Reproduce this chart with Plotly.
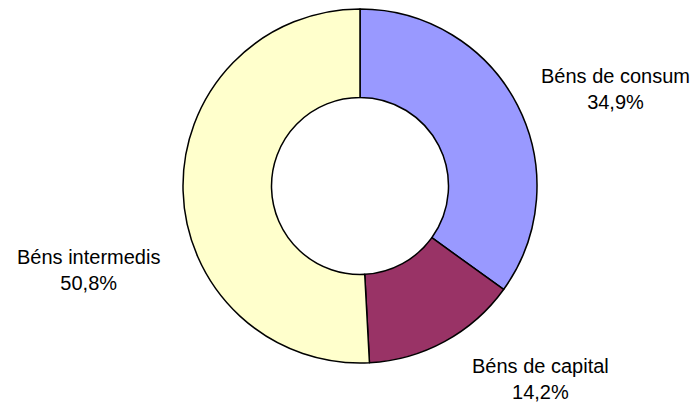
import plotly.graph_objects as go

labels = ["Béns de consum", "Béns de capital", "Béns intermedis"]
values = [34.9, 14.2, 50.8]
pct_text = ["34,9%", "14,2%", "50,8%"]
colors = ["#9999FF", "#993366", "#FFFFCC"]

W, H = 700, 408
cx, cy, r = 360, 186, 177

fig = go.Figure(go.Pie(
    labels=labels,
    values=values,
    hole=0.5,
    sort=False,
    direction="clockwise",
    rotation=0,
    marker=dict(colors=colors, line=dict(color="black", width=1.5)),
    textinfo="none",
    hoverinfo="label+percent",
    showlegend=False,
    domain=dict(x=[(cx - r) / W, (cx + r) / W], y=[(H - cy - r) / H, (H - cy + r) / H]),
))

label_pos = [(615, 89), (540, 379), (88, 270)]
for lab, pt, (x, y) in zip(labels, pct_text, label_pos):
    fig.add_annotation(
        x=x / W, y=1 - y / H, xref="paper", yref="paper",
        text=f"{lab}<br>{pt}", showarrow=False,
        font=dict(family="Liberation Sans, Arial, sans-serif", size=20, color="black"),
        align="center", xanchor="center", yanchor="middle",
    )

fig.update_layout(
    width=W, height=H,
    margin=dict(l=0, r=0, t=0, b=0),
    paper_bgcolor="white", plot_bgcolor="white",
)

fig.write_html(
    "out.html",
    config={"displayModeBar": False},
    post_script="document.body.style.margin='0';document.body.style.padding='0';",
)
